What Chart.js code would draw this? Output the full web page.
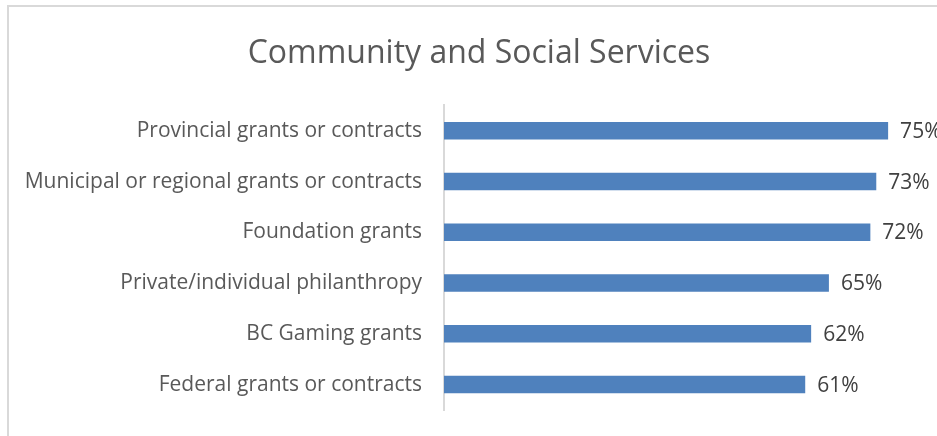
<!DOCTYPE html>
<html>
<head>
<meta charset="utf-8">
<script src="https://cdn.jsdelivr.net/npm/chart.js@4/dist/chart.umd.min.js"></script>
<style>
  html, body { margin: 0; padding: 0; background: #fff; overflow: hidden; }
  #wrap { position: relative; width: 937px; height: 436px; overflow: hidden; }
  #frame { position: absolute; left: 7px; top: 5px; width: 960px; height: 460px; border: 2px solid #d9d9d9; box-sizing: border-box; }
  #grafico { position: absolute; left: 0; top: 0; }
</style>
</head>
<body>
<div id="wrap">
  <div id="frame"></div>
  <canvas id="grafico" width="958" height="436"></canvas>
</div>
<script>
var categorias = [
  'Provincial grants or contracts',
  'Municipal or regional grants or contracts',
  'Foundation grants',
  'Private/individual philanthropy',
  'BC Gaming grants',
  'Federal grants or contracts'
];
var valores = [75, 73, 72, 65, 62, 61];

// escreve o percentual ao lado de cada barra
var rotulos = {
  id: 'rotulos',
  afterDatasetsDraw: function(chart) {
    var ctx = chart.ctx;
    var meta = chart.getDatasetMeta(0);
    ctx.save();
    ctx.font = '21px "Open Sans"';
    ctx.fillStyle = '#404040';
    ctx.textAlign = 'left';
    ctx.textBaseline = 'middle';
    meta.data.forEach(function(bar, i) {
      ctx.fillText(chart.data.datasets[0].data[i] + '%', bar.x + 12, bar.y + 1);
    });
    ctx.restore();
  }
};

var type = 'bar';

var data = {
  labels: categorias,
  datasets: [
    {
      backgroundColor: '#4f81bd',
      data: valores,
      categoryPercentage: 0.5,
      barPercentage: 0.69
    }
  ]
};

var options = {
  indexAxis: 'y',
  responsive: false,
  maintainAspectRatio: false,
  animation: false,
  devicePixelRatio: 1,
  layout: { padding: { left: 0, right: 0, top: 0, bottom: 26 } },
  plugins: {
    legend: { display: false },
    tooltip: { enabled: false },
    title: {
      display: true,
      text: 'Community and Social Services',
      color: '#595959',
      font: { family: 'Open Sans', size: 32, weight: 'normal' },
      padding: { top: 35, bottom: 32 }
    }
  },
  scales: {
    x: {
      display: false,
      min: 0,
      max: 86.8
    },
    y: {
      afterFit: function(scale) {
        scale.width = 444;
        scale.paddingTop = 0;
        scale.paddingBottom = 0;
      },
      grid: { display: false, drawTicks: false },
      border: { display: true, color: '#d9d9d9', width: 2 },
      ticks: {
        padding: 22,
        color: '#595959',
        font: { family: 'Open Sans', size: 21 }
      }
    }
  }
};

var ctx = document.getElementById('grafico').getContext('2d');
new Chart(ctx, { type: type, data: data, options: options, plugins: [rotulos] });
</script>
</body>
</html>
